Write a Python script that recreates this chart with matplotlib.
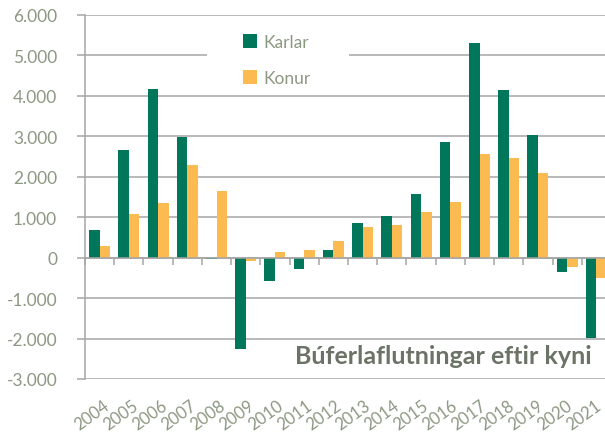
import numpy as np
import matplotlib.pyplot as plt
from matplotlib.patches import Patch, Rectangle
from matplotlib.ticker import FuncFormatter
import matplotlib.transforms as mtransforms

ar = list(range(2004, 2022))
karlar = [690, 2660, 4170, 2995, -30, -2260, -580, -290, 200, 860,
          1040, 1580, 2850, 5310, 4140, 3040, -355, -1990]
konur = [280, 1080, 1360, 2300, 1650, -90, 150, 200, 410, 770,
         820, 1130, 1365, 2570, 2470, 2100, -240, -495]

GRAENN = '#00775a'
GULUR = '#fbbb50'
GRATT = '#a6a6a6'
TEXTI = '#8c9882'
TITILL = '#6b7366'

plt.rcParams['font.family'] = ['Lato', 'DejaVu Sans']

W, H = 605, 435
fig = plt.figure(figsize=(W/100, H/100), dpi=100)
ax = fig.add_axes([85/W, 1 - 380/H, 526/W, 364/H])

x = np.arange(len(ar))
b = 0.36
ax.bar(x - b/2, karlar, b, color=GRAENN, zorder=3)
ax.bar(x + b/2, konur, b, color=GULUR, zorder=3)

ax.set_xlim(-0.5, len(ar) - 0.5)
ax.set_ylim(-3000, 6000)
ax.set_yticks(np.arange(-3000, 6001, 1000))
ax.yaxis.set_major_formatter(FuncFormatter(lambda v, p: f'{int(v):,}'.replace(',', '.')))
ax.grid(axis='y', color=GRATT, linewidth=1.1, zorder=0)
ax.tick_params(axis='y', colors=GRATT, labelcolor=TEXTI, labelsize=12.5, length=6, width=1.1, pad=14)

for s in ['top', 'right']:
    ax.spines[s].set_visible(False)
ax.spines['left'].set_color(GRATT)
ax.spines['left'].set_linewidth(1.1)
ax.spines['bottom'].set_position(('data', 0))
ax.spines['bottom'].set_color(GRATT)
ax.spines['bottom'].set_linewidth(1.1)
ax.spines['bottom'].set_zorder(4)

ax.set_xticks(np.arange(len(ar) + 1) - 0.5)
ax.set_xticklabels([])
ax.tick_params(axis='x', colors=GRATT, length=5, width=1.1, direction='out')

# artaladmerki, snuid
trans = mtransforms.blended_transform_factory(ax.transData, ax.transAxes)
for i, a in enumerate(ar):
    ax.text(i + 0.12 - 0.01 * i, -0.048, str(a), transform=trans, rotation=36,
            rotation_mode='anchor', ha='right', va='top', fontsize=12, color=TEXTI)

# hvitur reitur bak vid skyringar
ax.add_patch(Rectangle((207/W, 1 - 92/H), 142/W, 67/H, transform=fig.transFigure,
                       facecolor='white', edgecolor='none', zorder=2, clip_on=False))

handles = [Patch(facecolor=GRAENN), Patch(facecolor=GULUR)]
leg = ax.legend(handles, ['Karlar', 'Konur'], loc='center left',
                bbox_to_anchor=(243/W, 1 - 61/H), bbox_transform=fig.transFigure,
                frameon=False, fontsize=12.5, handlelength=0.8, handleheight=0.8,
                handletextpad=0.4, labelspacing=1.15, borderpad=0, borderaxespad=0)
for t in leg.get_texts():
    t.set_color(TEXTI)
leg.set_zorder(5)

fig.text(592/W, 1 - 357/H, 'Búferlaflutningar eftir kyni', ha='right', va='center',
         fontsize=18, fontweight='bold', color=TITILL)

fig.savefig('out.png', dpi=100)
